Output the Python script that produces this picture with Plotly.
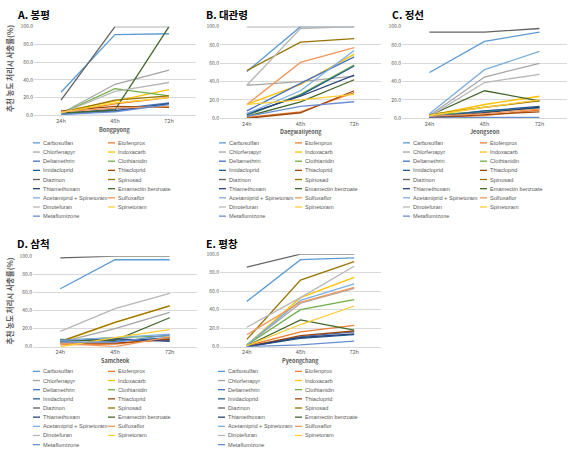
import plotly.graph_objects as go

W, H = 578, 463

times = ["24h", "48h", "72h"]

insecticides = [
    "Carbosulfan", "Etofenprox", "Chlorfenapyr", "Indoxacarb", "Deltamethrin",
    "Clothianidin", "Imidacloprid", "Thiacloprid", "Diazinon", "Spinosad",
    "Thiamethoxam", "Emamectin benzoate", "Acetamiprid + Spinetoram",
    "Sulfoxaflor", "Dinotefuran", "Spinetoram", "Metaflumizone",
]

colors = [
    "#5B9BD5", "#ED7D31", "#A5A5A5", "#FFC000", "#4472C4", "#70AD47",
    "#255E91", "#9E480E", "#636363", "#997300", "#264478", "#43682B",
    "#7CAFDD", "#F1975A", "#B7B7B7", "#FFCD33", "#698ED0",
]

# mortality (%) at 24h, 48h, 72h, one row per insecticide (same order as above)
bongpyong = [
    [26, 91, 92], [3, 13, 20], [2, 35, 51], [4, 16, 29], [2, 7, 14],
    [2, 30, 22], [1, 5, 13], [5, 10, 9], [17, 100, 100], [3, 17, 22],
    [3, 5, 13], [2, 6, 100], [0, 0, 0], [4, 8, 10], [2, 27, 37],
    [3, 14, 20], [1, 4, 12],
]
daegwallyeong = [
    [51, 100, 100], [1, 7, 28], [36, 40, 46], [15, 37, 70], [8, 38, 67],
    [3, 26, 58], [4, 25, 57], [0, 6, 30], [100, 100, 100], [52, 83, 87],
    [5, 24, 47], [2, 18, 42], [5, 30, 74], [15, 61, 77], [36, 98, 100],
    [15, 20, 26], [2, 13, 18],
]
jeongseon = [
    [50, 84, 94], [1, 3, 9], [3, 45, 60], [3, 15, 24], [2, 8, 11],
    [4, 7, 12], [1, 8, 13], [0, 4, 7], [94, 94, 98], [4, 12, 19],
    [1, 6, 12], [3, 30, 19], [5, 53, 73], [2, 5, 10], [2, 39, 48],
    [3, 12, 20], [0, 1, 1],
]
samcheok = [
    [64, 96, 96], [2, 3, 9], [5, 20, 38], [5, 27, 45], [6, 8, 7],
    [7, 10, 12], [8, 6, 10], [4, 4, 8], [98, 100, 100], [6, 27, 45],
    [7, 9, 6], [7, 7, 32], [7, 10, 14], [4, 0, 11], [17, 42, 59],
    [0, 10, 19], [5, 5, 13],
]
pyeongchang = [
    [49, 94, 96], [1, 16, 23], [2, 47, 63], [2, 53, 75], [0, 11, 16],
    [2, 40, 51], [0, 9, 13], [0, 12, 17], [86, 100, 100], [8, 72, 92],
    [0, 10, 14], [1, 29, 18], [2, 50, 68], [13, 48, 64], [21, 53, 87],
    [1, 24, 44], [0, 2, 6],
]

panel_titles = ["A. 봉평", "B. 대관령", "C. 정선", "D. 삼척", "E. 평창"]
site_names = ["Bongpyong", "Daegwallyeong", "Jeongseon", "Samcheok", "Pyeongchang"]
site_data = [bongpyong, daegwallyeong, jeongseon, samcheok, pyeongchang]
y_title = "추천 농도 처리시 사충률(%)"

# layout positions (pixels)
layout_px = [
    dict(x0=34, x1=196, y0=23, y1=113, tx=16, ty=10.5, xty=128, lx=(33, 108), ly=141, yt=66),
    dict(x0=220, x1=381, y0=23, y1=116, tx=205, ty=10.5, xty=130, lx=(219, 295), ly=141, yt=None),
    dict(x0=402, x1=567, y0=23, y1=116, tx=391, ty=10.5, xty=130, lx=(403, 480), ly=141, yt=None),
    dict(x0=33, x1=197, y0=256, y1=348, tx=16, ty=243.5, xty=362, lx=(33, 108), ly=373, yt=302),
    dict(x0=220, x1=381, y0=254, y1=348, tx=205, ty=243.5, xty=362, lx=(218, 295), ly=373, yt=None),
]

FONT = "Noto Sans CJK KR, Noto Sans, sans-serif"
LFONT = "Liberation Sans, Arial, sans-serif"
TXT = "#595959"


def px(x):
    return x / W


def py(y):
    return 1 - y / H


fig = go.Figure()
annotations = []
shapes = []
row_step = 9.3

for p, (title, site, data, pos) in enumerate(zip(panel_titles, site_names, site_data, layout_px)):
    sfx = "" if p == 0 else str(p + 1)
    for name, col, vals in zip(insecticides, colors, data):
        fig.add_trace(go.Scatter(
            x=times, y=vals, mode="lines", name=name,
            line=dict(color=col, width=1.3),
            xaxis="x" + sfx, yaxis="y" + sfx, showlegend=False,
        ))
    fig.layout["xaxis" + sfx] = dict(
        domain=[px(pos["x0"]), px(pos["x1"])], anchor="y" + sfx,
        type="category", range=[-0.5, 2.5], showgrid=False,
        showline=True, linecolor="#D9D9D9", linewidth=1, ticks="",
        tickfont=dict(size=5.5, color=TXT, family=FONT),
    )
    fig.layout["yaxis" + sfx] = dict(
        domain=[py(pos["y1"]), py(pos["y0"])], anchor="x" + sfx,
        range=[0, 100], dtick=20, tickformat=".1f", showgrid=True,
        gridcolor="#D9D9D9", gridwidth=0.8, zeroline=False, showline=False,
        ticks="", tickfont=dict(size=5, color=TXT, family=FONT),
    )
    # panel title
    annotations.append(dict(
        text="<b>" + title + "</b>", x=px(pos["tx"]), y=py(pos["ty"]),
        xref="paper", yref="paper", xanchor="left", yanchor="middle",
        showarrow=False, borderpad=0,
        font=dict(size=10.5, color="#000000", family=FONT),
    ))
    # x axis title
    annotations.append(dict(
        text="<b>" + site + "</b>", x=px((pos["x0"] + pos["x1"]) / 2), y=py(pos["xty"]),
        xref="paper", yref="paper", xanchor="center", yanchor="middle",
        showarrow=False, font=dict(size=5.5, color=TXT, family=FONT),
    ))
    # y axis title
    if pos["yt"] is not None:
        annotations.append(dict(
            text="<b>" + y_title + "</b>", x=px(9), y=py(pos["yt"]),
            xref="paper", yref="paper", xanchor="center", yanchor="middle",
            textangle=-90, showarrow=False,
            font=dict(size=7.5, color=TXT, family=FONT),
        ))
    # legend (two columns, row-major order)
    for i, (name, col) in enumerate(zip(insecticides, colors)):
        r, c = divmod(i, 2)
        lx = pos["lx"][c]
        ly = pos["ly"] + r * row_step
        shapes.append(dict(
            type="line", xref="paper", yref="paper",
            x0=px(lx), x1=px(lx + 7), y0=py(ly), y1=py(ly),
            line=dict(color=col, width=1.3),
        ))
        annotations.append(dict(
            text=name, x=px(lx + 8), y=py(ly),
            xref="paper", yref="paper", xanchor="left", yanchor="middle",
            showarrow=False, font=dict(size=5.6, color=TXT, family=LFONT),
        ))

fig.update_layout(
    width=W, height=H, margin=dict(l=0, r=0, t=0, b=0),
    paper_bgcolor="white", plot_bgcolor="white",
    annotations=annotations, shapes=shapes, showlegend=False,
    font=dict(family=FONT),
)

fig.write_html(
    "out.html",
    config={"displayModeBar": False},
    post_script="document.body.style.margin='0px';",
)
